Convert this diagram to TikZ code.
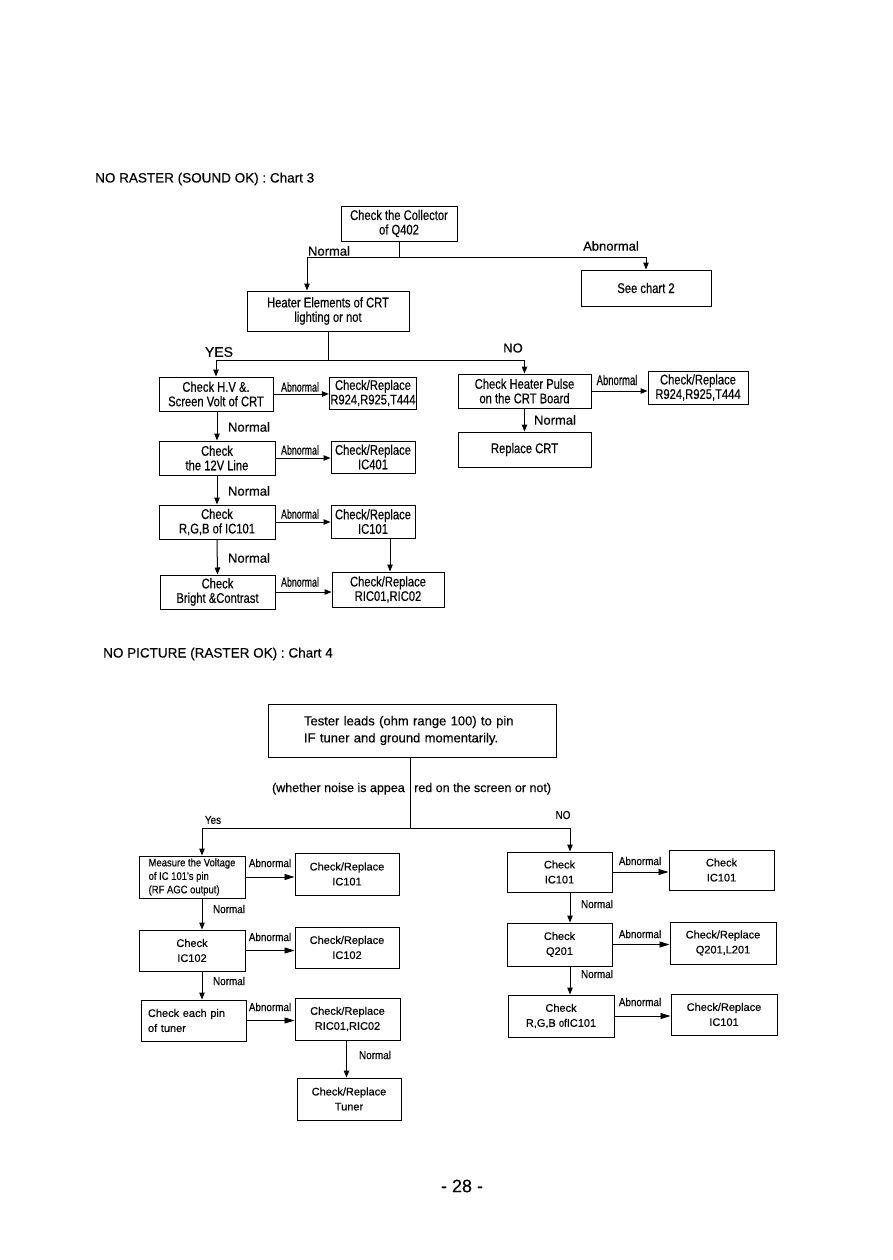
\documentclass[tikz,border=0pt]{standalone}
\usepackage{fontspec}
\setmainfont{Liberation Sans}[FakeBold=0.3]
\newfontfamily\cond{Liberation Sans}[FakeStretch=0.8,FakeBold=0.3]
\newfontfamily\bcond{Liberation Sans}[FakeStretch=0.86,FakeBold=0.3]
\newfontfamily\ccond{Liberation Sans}[FakeStretch=0.68,FakeBold=0.3]
\usetikzlibrary{arrows.meta}
\begin{document}
\begin{tikzpicture}[x=1pt,y=-1pt,
  sz/.style 2 args={minimum width=#1, minimum height=#2},
  tb/.style={draw, line width=1pt, inner sep=1pt, align=center, font=\cond\fontsize{14}{14.5}\selectfont},
  bb/.style={draw, line width=1pt, inner sep=1pt, align=center, font=\fontsize{11}{15}\selectfont},
  ln/.style={line width=1pt},
  arr/.style={line width=1pt, -{Triangle[length=7pt,width=5.5pt]}},
  arrb/.style={line width=0.9pt, -{Triangle[length=10pt,width=6pt]}},
  lbl/.style={inner sep=0pt, font=\fontsize{13}{14}\selectfont},
  slbl/.style={inner sep=0pt, font=\ccond\fontsize{13}{13}\selectfont},
  blbl/.style={inner sep=0pt, font=\bcond\fontsize{11.5}{12}\selectfont},
  ttl/.style={inner sep=0pt, anchor=west, font=\fontsize{13.5}{15}\selectfont}]
\useasboundingbox[fill=white] (0,0) rectangle (893,1260);

% ---------------- Chart 3 ----------------
\node[ttl] (t3) at (95,179) {NO RASTER (SOUND OK) : Chart 3};

\node[tb, sz={116pt}{35pt}] (q402) at (399,223.5) {Check the Collector\\of Q402};
\node[tb, sz={130pt}{36pt}] (chart2) at (646,288) {See chart 2};
\node[tb, sz={162pt}{40pt}] (heater) at (328,311) {Heater Elements of CRT\\lighting or not};

\node[tb, sz={114pt}{34pt}] (hv) at (216,394) {Check H.V \&.\\Screen Volt of CRT};
\node[tb, sz={84pt}{32pt}] (r1) at (373,393) {Check/Replace\\R924,R925,T444};
\node[tb, sz={116pt}{34pt}] (v12) at (217,458) {Check\\the 12V Line};
\node[tb, sz={84pt}{32pt}] (ic401) at (373,457) {Check/Replace\\IC401};
\node[tb, sz={116pt}{34pt}] (rgb) at (217,522) {Check\\R,G,B of IC101};
\node[tb, sz={84pt}{33pt}] (ic101a) at (373,521.5) {Check/Replace\\IC101};
\node[tb, sz={115pt}{34pt}] (bright) at (217.5,592) {Check\\Bright \&Contrast};
\node[tb, sz={112pt}{35pt}] (ric) at (388,589.5) {Check/Replace\\RIC01,RIC02};

\node[tb, sz={133pt}{34pt}] (pulse) at (524.5,391) {Check Heater Pulse\\on the CRT Board};
\node[tb, sz={100pt}{33pt}] (r2) at (698,387.5) {Check/Replace\\R924,R925,T444};
\node[tb, sz={133pt}{35pt}] (crt) at (524.5,449.5) {Replace CRT};

\coordinate (n1) at (307,257);
\coordinate (a1) at (646,257);
\draw[ln] (q402.south) -- (q402.south |- n1);
\draw[ln] (n1) -- (a1);
\draw[arr] (n1) -- (n1 |- heater.north);
\draw[arr] (a1) -- (chart2.north);
\node[lbl] at (329,251) {Normal};
\node[lbl] at (611,246) {Abnormal};

\coordinate (y1) at (216,360);
\coordinate (o1) at (524.5,360);
\draw[ln] (heater.south) -- (heater.south |- y1);
\draw[ln] (y1) -- (o1);
\draw[arr] (y1) -- (hv.north);
\draw[arr] (o1) -- (pulse.north);
\node[lbl, font=\fontsize{14}{15}\selectfont] at (219,352) {YES};
\node[lbl] at (513,348) {NO};

\draw[arr] (hv.east) -- (hv.east -| r1.west);
\draw[arr] (v12.east) -- (v12.east -| ic401.west);
\draw[arr] (rgb.east) -- (rgb.east -| ic101a.west);
\draw[arr] (bright.east) -- (bright.east -| ric.west);
\node[slbl] at (300,387) {Abnormal};
\node[slbl] at (300,450) {Abnormal};
\node[slbl] at (300,514) {Abnormal};
\node[slbl] at (300,582) {Abnormal};

\draw[arr] (hv.south -| v12.north) -- (v12.north);
\draw[arr] (v12.south) -- (rgb.north);
\draw[arr] (rgb.south) -- (bright.north);
\node[lbl] at (249,427) {Normal};
\node[lbl] at (249,491) {Normal};
\node[lbl] at (249,558) {Normal};

\draw[arr] ([xshift=2pt]ric.north |- ic101a.south) -- ([xshift=2pt]ric.north);

\draw[arr] (pulse.east) -- (pulse.east -| r2.west);
\node[slbl, font=\ccond\fontsize{14}{14}\selectfont] at (617,380) {Abnormal};
\draw[arr] (pulse.south) -- (crt.north);
\node[lbl] at (555,420) {Normal};

% ---------------- Chart 4 ----------------
\node[ttl] (t4) at (103,654) {NO PICTURE (RASTER OK) : Chart 4};

\node[draw, line width=1pt, sz={288pt}{53pt}, align=left, text width=216pt, inner xsep=36pt,
      font=\fontsize{13}{17}\selectfont] (tester) at (412,730.5)
      {Tester leads (ohm range 100) to pin\\IF tuner and ground momentarily.};
\node[inner sep=0pt, anchor=base east, font=\fontsize{12.5}{14}\selectfont] (w1) at (405,792) {(whether noise is appea};
\node[inner sep=0pt, anchor=base west, font=\fontsize{12.5}{14}\selectfont] (w2) at (414,792) {red on the screen or not)};

\coordinate (jm) at (410,828);
\coordinate (jy) at (202,828);
\coordinate (jn) at (570,828);
\draw[ln] (jm |- tester.south) -- (jm);
\draw[ln] (jy) -- (jn);
\node[blbl] at (213,820) {Yes};
\node[blbl] at (563,815) {NO};

\node[bb, sz={106pt}{42pt}, align=left, font=\bcond\fontsize{11}{13.5}\selectfont] (measure) at (192,877)
  {Measure the Voltage\\of IC 101's pin\\(RF AGC output)};
\node[bb, sz={104pt}{42pt}] (cr1) at (347,874) {Check/Replace\\IC101};
\node[bb, sz={106pt}{41pt}] (ic102) at (192,950.5) {Check\\IC102};
\node[bb, sz={104pt}{41pt}] (cr2) at (347,947.5) {Check/Replace\\IC102};
\node[bb, sz={105pt}{41pt}, align=left, text width=91pt, inner xsep=7pt] (pin) at (193.5,1020.5) {Check each pin\\of tuner};
\node[bb, sz={105pt}{42pt}] (cr3) at (347.5,1019) {Check/Replace\\RIC01,RIC02};
\node[bb, sz={104pt}{42pt}] (tuner) at (349,1099) {Check/Replace\\Tuner};

\draw[arr] (jy) -- (jy |- measure.north);
\draw[arrb] (measure.east) -- (measure.east -| cr1.west);
\draw[arrb] (ic102.east) -- (ic102.east -| cr2.west);
\draw[arrb] (pin.east) -- (pin.east -| cr3.west);
\draw[arr] (jy |- measure.south) -- (jy |- ic102.north);
\draw[arr] (jy |- ic102.south) -- (jy |- pin.north);
\draw[arr] ([xshift=-1pt]cr3.south) -- ([xshift=-1pt]cr3.south |- tuner.north);
\node[blbl] at (270,863) {Abnormal};
\node[blbl] at (270,937) {Abnormal};
\node[blbl] at (270,1007) {Abnormal};
\node[blbl] at (229,909) {Normal};
\node[blbl] at (229,981) {Normal};
\node[blbl] at (375,1055) {Normal};

\node[bb, sz={105pt}{40pt}] (c1) at (559.5,872) {Check\\IC101};
\node[bb, sz={105pt}{40pt}] (c1r) at (721.5,870) {Check\\IC101};
\node[bb, sz={105pt}{43pt}] (q201) at (559.5,944.5) {Check\\Q201};
\node[bb, sz={106pt}{42pt}] (q201r) at (723,943) {Check/Replace\\Q201,L201};
\node[bb, sz={106pt}{42pt}] (rgb2) at (561,1016) {Check\\R,G,B {\bcond of}IC101};
\node[bb, sz={106pt}{41pt}] (rgb2r) at (724,1014.5) {Check/Replace\\IC101};

\draw[arr] (jn) -- (jn |- c1.north);
\draw[arr] (jn |- c1.south) -- (jn |- q201.north);
\draw[arr] (jn |- q201.south) -- (jn |- rgb2.north);
\draw[arrb] (c1.east) -- (c1.east -| c1r.west);
\draw[arrb] (q201.east) -- (q201.east -| q201r.west);
\draw[arrb] (rgb2.east) -- (rgb2.east -| rgb2r.west);
\node[blbl] at (640,861) {Abnormal};
\node[blbl] at (640,934) {Abnormal};
\node[blbl] at (640,1002) {Abnormal};
\node[blbl] at (597,904) {Normal};
\node[blbl] at (597,974) {Normal};

\node[inner sep=0pt, font=\fontsize{18}{20}\selectfont] (pg) at (462,1186) {- 28 -};
\end{tikzpicture}
\end{document}
